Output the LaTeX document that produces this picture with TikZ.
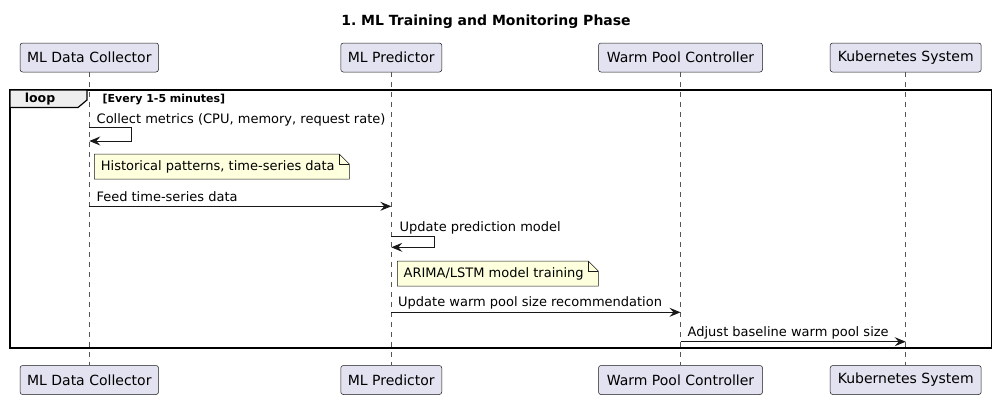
\documentclass[tikz,border=0pt]{standalone}
\usepackage{fontspec}
\setmainfont{DejaVu Sans}
\usetikzlibrary{arrows.meta}
\definecolor{partfill}{HTML}{E2E2F0}
\definecolor{partline}{HTML}{181818}
\definecolor{lifeline}{HTML}{555555}
\definecolor{notefill}{HTML}{FEFFDD}
\definecolor{tabfill}{HTML}{EEEEEE}
\tikzset{
  part/.style={draw=partline, fill=partfill, rounded corners=2.5pt, line width=0.5pt,
    minimum height=29pt, inner xsep=7pt, font=\fontsize{14}{16}\selectfont, anchor=center},
  life/.style={draw=lifeline, line width=0.5pt, dash pattern=on 5pt off 5pt},
  msg/.style={draw=partline, line width=0.9pt, -{Stealth[length=11pt,width=9pt,inset=4pt]}},
  msgtext/.style={font=\fontsize{13}{15}\selectfont, anchor=base west, inner sep=0pt},
  notebox/.style={draw=partline, fill=notefill, line width=0.5pt},
  notetext/.style={font=\fontsize{13}{15}\selectfont, anchor=west, inner sep=0pt},
}
\begin{document}
\frenchspacing
\begin{tikzpicture}[x=1pt,y=-1pt]
\useasboundingbox (0,0) rectangle (996,400);
% title
\node[font=\bfseries\fontsize{14}{16}\selectfont] (title) at (486,22) {1. ML Training and Monitoring Phase};
% participants
\node[part, minimum width=138pt] (dcT) at (89.3,57.5) {ML Data Collector};
\node[part, minimum width=101pt] (mpT) at (391.3,57.5) {ML Predictor};
\node[part, minimum width=164pt] (wpT) at (680.5,57.5) {Warm Pool Controller};
\node[part, minimum width=151pt] (ksT) at (905.7,57.5) {Kubernetes System};
\node[part, minimum width=138pt] (dcB) at (89.3,380) {ML Data Collector};
\node[part, minimum width=101pt] (mpB) at (391.3,380) {ML Predictor};
\node[part, minimum width=164pt] (wpB) at (680.5,380) {Warm Pool Controller};
\node[part, minimum width=151pt] (ksB) at (905.7,380) {Kubernetes System};
% lifelines
\foreach \p in {dc,mp,wp,ks}{
  \draw[life] (\p T.south) -- (\p B.north);
}
% loop frame
\draw[line width=1.5pt] (10,90) rectangle (991.5,348);
\draw[line width=1.2pt, fill=tabfill] (10,90) -- (87,90) -- (87,100) -- (78,107.5) -- (10,107.5) -- cycle;
\node[font=\bfseries\fontsize{12.5}{14}\selectfont, inner sep=0pt] (looplbl) at (40,99) {loop};
\node[font=\bfseries\fontsize{11}{13}\selectfont, anchor=west, inner sep=0pt] (guard) at (102.5,99.5) {[Every 1-5 minutes]};
% message 1 (self)
\coordinate (m1a) at (89.3,127.7);
\coordinate (m1b) at (131.6,127.7);
\coordinate (m1c) at (131.6,141);
\coordinate (m1d) at (89.3,141);
\draw[msg] (m1a) -- (m1b) -- (m1c) -- (m1d);
\node[msgtext] (t1) at (96.5,123) {Collect metrics (CPU, memory, request rate)};
% note 1
\draw[notebox] (94.3,154) -- (339.3,154) -- (349.3,164) -- (349.3,179) -- (94.3,179) -- cycle;
\draw[partline, line width=0.5pt] (339.3,154) -- (339.3,164) -- (349.3,164);
\node[notetext] (n1) at (100.7,167) {Historical patterns, time-series data};
% message 2
\coordinate (m2a) at (89.3,206.3);
\coordinate (m2b) at (391.3,206.3);
\draw[msg] (m2a) -- (m2b);
\node[msgtext] (t2) at (96.3,201) {Feed time-series data};
% message 3 (self)
\coordinate (m3a) at (391.3,236);
\coordinate (m3b) at (434.7,236);
\coordinate (m3c) at (434.7,247.3);
\coordinate (m3d) at (391.3,247.3);
\draw[msg] (m3a) -- (m3b) -- (m3c) -- (m3d);
\node[msgtext] (t3) at (399.5,231) {Update prediction model};
% note 2
\draw[notebox] (397.3,261) -- (588.3,261) -- (598.3,271) -- (598.3,286) -- (397.3,286) -- cycle;
\draw[partline, line width=0.5pt] (588.3,261) -- (588.3,271) -- (598.3,271);
\node[notetext] (n2) at (403.5,273.8) {ARIMA/LSTM model training};
% message 4
\coordinate (m4a) at (391.3,312.3);
\coordinate (m4b) at (680.5,312.3);
\draw[msg] (m4a) -- (m4b);
\node[msgtext] (t4) at (398,306.5) {Update warm pool size recommendation};
% message 5
\coordinate (m5a) at (680.5,341.7);
\coordinate (m5b) at (905.7,341.7);
\draw[msg] (m5a) -- (m5b);
\node[msgtext] (t5) at (687.5,336) {Adjust baseline warm pool size};
\end{tikzpicture}
\end{document}
